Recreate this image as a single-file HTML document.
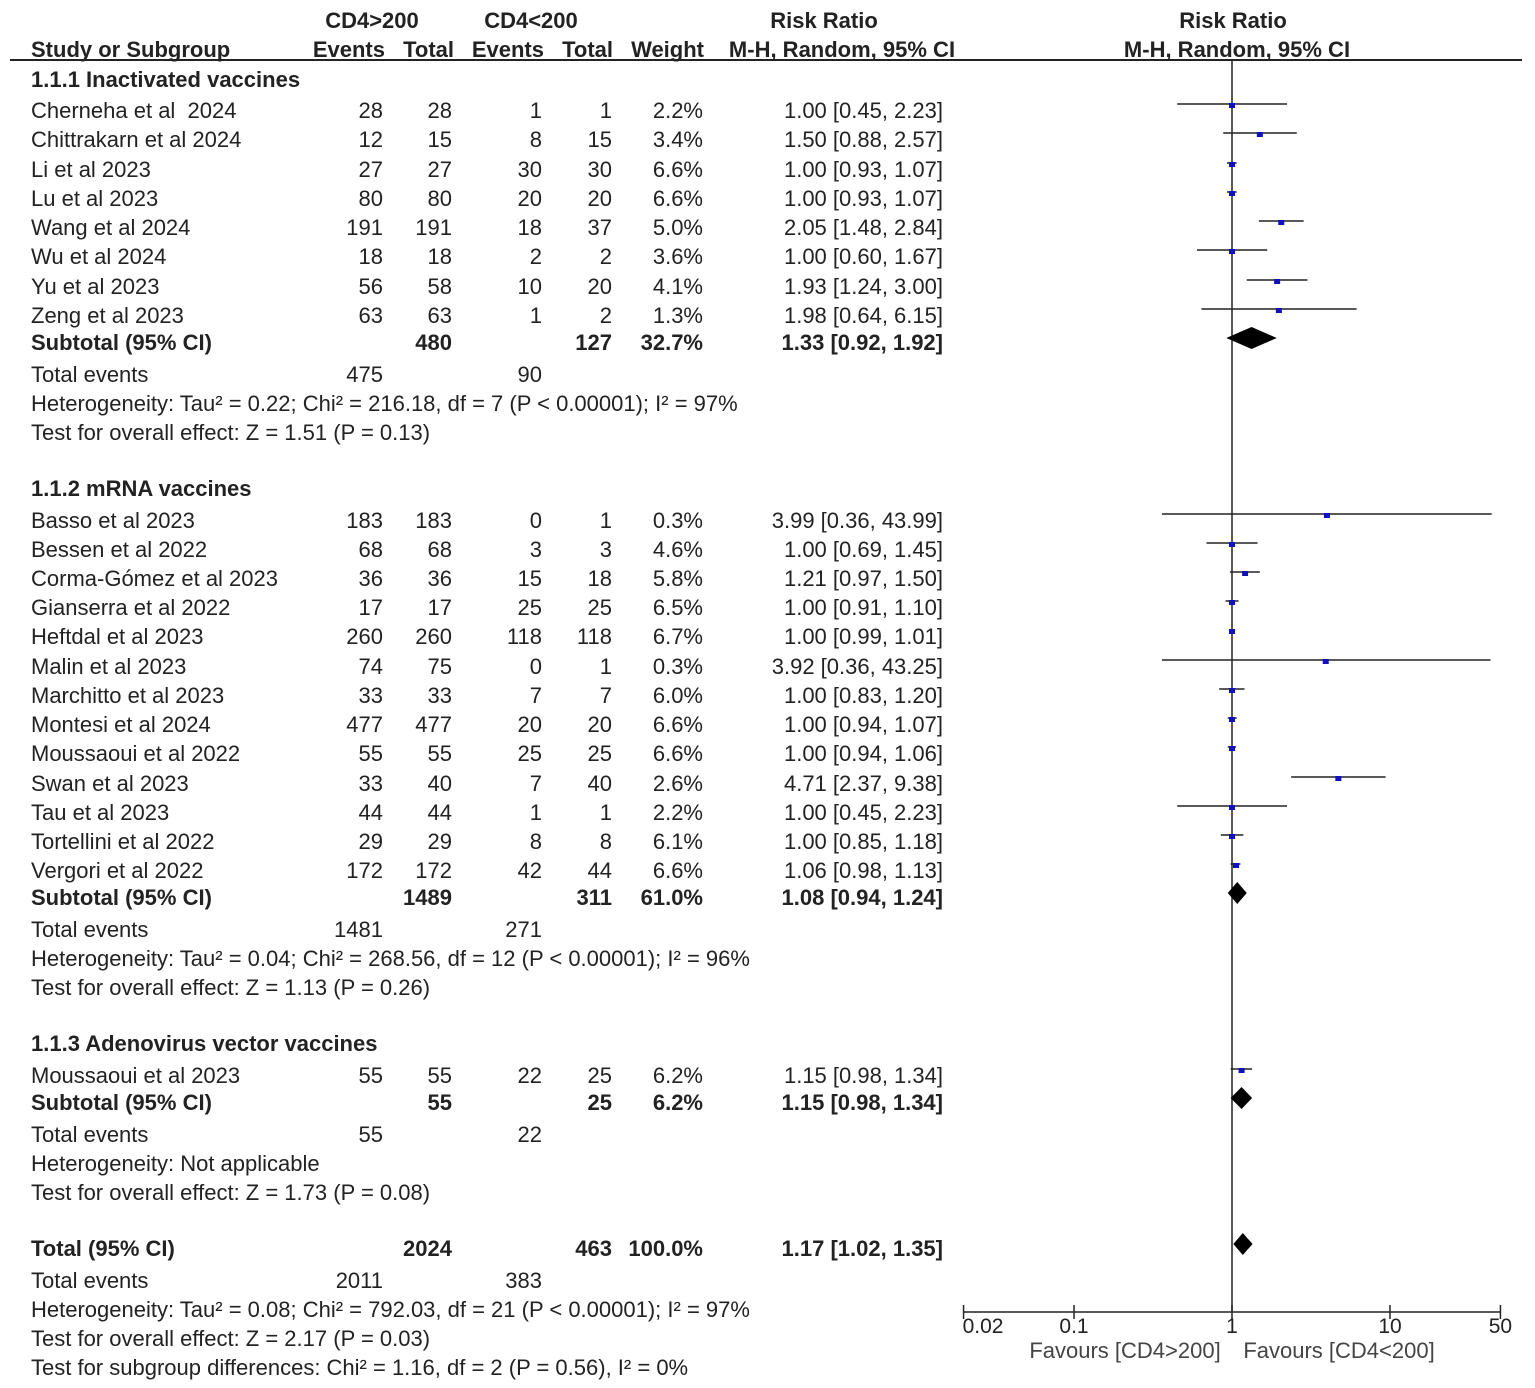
<!DOCTYPE html>
<html><head><meta charset="utf-8"><style>
body{margin:0;background:#fff;}
#c{position:relative;width:1535px;height:1388px;overflow:hidden;font-family:"Liberation Sans",Arial,sans-serif;font-size:22px;color:#222;}
.t{position:absolute;white-space:pre;line-height:24px;transform:translateY(-12px);}
.b{font-weight:bold;}
svg{position:absolute;left:0;top:0;}
</style></head><body>
<div id="c">
<svg id="s" width="1535" height="1388"></svg>
</div>
<script>
// ---- data ----
const studyNames=["Cherneha et al  2024","Chittrakarn et al 2024","Li et al 2023","Lu et al 2023","Wang et al 2024","Wu et al 2024","Yu et al 2023","Zeng et al 2023",
"Basso et al 2023","Bessen et al 2022","Corma-Gómez et al 2023","Gianserra et al 2022","Heftdal et al 2023","Malin et al 2023","Marchitto et al 2023","Montesi et al 2024","Moussaoui et al 2022","Swan et al 2023","Tau et al 2023","Tortellini et al 2022","Vergori et al 2022",
"Moussaoui et al 2023"];
const ev1=[28,12,27,80,191,18,56,63,183,68,36,17,260,74,33,477,55,33,44,29,172,55];
const tot1=[28,15,27,80,191,18,58,63,183,68,36,17,260,75,33,477,55,40,44,29,172,55];
const ev2=[1,8,30,20,18,2,10,1,0,3,15,25,118,0,7,20,25,7,1,8,42,22];
const tot2=[1,15,30,20,37,2,20,2,1,3,18,25,118,1,7,20,25,40,1,8,44,25];
const weights=["2.2%","3.4%","6.6%","6.6%","5.0%","3.6%","4.1%","1.3%","0.3%","4.6%","5.8%","6.5%","6.7%","0.3%","6.0%","6.6%","6.6%","2.6%","2.2%","6.1%","6.6%","6.2%"];
const rr=[1.00,1.50,1.00,1.00,2.05,1.00,1.93,1.98,3.99,1.00,1.21,1.00,1.00,3.92,1.00,1.00,1.00,4.71,1.00,1.00,1.06,1.15];
const lo=[0.45,0.88,0.93,0.93,1.48,0.60,1.24,0.64,0.36,0.69,0.97,0.91,0.99,0.36,0.83,0.94,0.94,2.37,0.45,0.85,0.98,0.98];
const hi=[2.23,2.57,1.07,1.07,2.84,1.67,3.00,6.15,43.99,1.45,1.50,1.10,1.01,43.25,1.20,1.07,1.06,9.38,2.23,1.18,1.13,1.34];
const sumRR=[1.33,1.08,1.15,1.17];
const sumLo=[0.92,0.94,0.98,1.02];
const sumHi=[1.92,1.24,1.34,1.35];
const ticks=[0.02,0.1,1,10,50];
// ---- layout ----
const c=document.getElementById('c'), s=document.getElementById('s');
const NS="http://www.w3.org/2000/svg";
const X=v=>1232+158*Math.log10(v);
function txt(str,x,y,cls,name,right){
 const d=document.createElement('div');
 d.className='t '+(cls||'');
 d.textContent=str;
 if(right){d.style.right=(1535-x)+'px';}else d.style.left=x+'px';
 d.style.top=y+'px';
 
 
 c.appendChild(d);
}
function ctr(str,x,y,cls,name,color){
 const d=document.createElement('div');
 d.className='t '+(cls||'');
 d.textContent=str;d.style.left=(x-200)+'px';d.style.width='400px';d.style.textAlign='center';d.style.top=y+'px';
 if(color)d.style.color=color;
 
 
 c.appendChild(d);
}
function el(tag,attrs,name){
 const e=document.createElementNS(NS,tag);
 for(const k in attrs)e.setAttribute(k,attrs[k]);
 
 
 s.appendChild(e);return e;
}
// headers
ctr("CD4>200",372,21,'b','header-cd4-over-200');
ctr("CD4<200",531,21,'b','header-cd4-under-200');
ctr("Risk Ratio",824,21,'b','header-risk-ratio-table');
ctr("Risk Ratio",1233,21,'b','header-risk-ratio-plot');
txt("Study or Subgroup",31,50,'b','header-study','');
txt("Events",385,50,'b','header-events1',1);
txt("Total",454,50,'b','header-total1',1);
txt("Events",544,50,'b','header-events2',1);
txt("Total",613,50,'b','header-total2',1);
txt("Weight",704,50,'b','header-weight',1);
ctr("M-H, Random, 95% CI",842,50,'b','header-mh-table');
ctr("M-H, Random, 95% CI",1237,50,'b','header-mh-plot');
el('line',{x1:10,x2:1522,y1:60,y2:60,stroke:'#222','stroke-width':2},'header-rule');
el('line',{x1:1232,x2:1232,y1:60,y2:1312,stroke:'#222','stroke-width':1.5},'null-line');
// groups
const groups=[
 {title:"1.1.1 Inactivated vaccines",ty:80,rows:[111,140,170,199,228,257,287,316],start:0,sub:343,
  st:[480,127,"32.7%","1.33 [0.92, 1.92]"],te:[475,90],het:"Heterogeneity: Tau² = 0.22; Chi² = 216.18, df = 7 (P < 0.00001); I² = 97%",test:"Test for overall effect: Z = 1.51 (P = 0.13)"},
 {title:"1.1.2 mRNA vaccines",ty:489,rows:[521,550,579,608,637,667,696,725,754,784,813,842,871],start:8,sub:898,
  st:[1489,311,"61.0%","1.08 [0.94, 1.24]"],te:[1481,271],het:"Heterogeneity: Tau² = 0.04; Chi² = 268.56, df = 12 (P < 0.00001); I² = 96%",test:"Test for overall effect: Z = 1.13 (P = 0.26)"},
 {title:"1.1.3 Adenovirus vector vaccines",ty:1044,rows:[1076],start:21,sub:1103,
  st:[55,25,"6.2%","1.15 [0.98, 1.34]"],te:[55,22],het:"Heterogeneity: Not applicable",test:"Test for overall effect: Z = 1.73 (P = 0.08)"}
];
function diamond(i,y,name){
 const a=X(sumLo[i]),b=X(sumRR[i]),d=X(sumHi[i]);
 el('polygon',{points:`${a},${y} ${b},${y-11} ${d},${y} ${b},${y+11}`,fill:'#000'},name);
}
groups.forEach((g,gi)=>{
 txt(g.title,31,g.ty,'b','subgroup-title-'+(gi+1));
 g.rows.forEach((y,k)=>{
  const i=g.start+k;
  txt(studyNames[i],31,y,'','study-name');
  txt(String(ev1[i]),383,y,'','events-cd4-over-200',1);
  txt(String(tot1[i]),452,y,'','total-cd4-over-200',1);
  txt(String(ev2[i]),542,y,'','events-cd4-under-200',1);
  txt(String(tot2[i]),612,y,'','total-cd4-under-200',1);
  txt(weights[i],703,y,'','study-weight',1);
  txt(rr[i].toFixed(2)+" ["+lo[i].toFixed(2)+", "+hi[i].toFixed(2)+"]",943,y,'','study-ci-text',1);
  el('line',{x1:X(lo[i]),x2:X(hi[i]),y1:y-7,y2:y-7,stroke:'#222','stroke-width':1.5},'ci-line');
  el('rect',{x:X(rr[i])-3,y:y-8,width:6,height:5,fill:'#1010c0'},'point-estimate');
 });
 txt("Subtotal (95% CI)",31,g.sub,'b','subtotal-label');
 txt(String(g.st[0]),452,g.sub,'b','subtotal-total1',1);
 txt(String(g.st[1]),612,g.sub,'b','subtotal-total2',1);
 txt(g.st[2],703,g.sub,'b','subtotal-weight',1);
 txt(g.st[3],943,g.sub,'b','subtotal-ci',1);
 diamond(gi,g.sub-5,'subtotal-diamond');
 txt("Total events",31,g.sub+32,'','total-events-label');
 txt(String(g.te[0]),383,g.sub+32,'','total-events1',1);
 txt(String(g.te[1]),542,g.sub+32,'','total-events2',1);
 txt(g.het,31,g.sub+61,'','heterogeneity');
 txt(g.test,31,g.sub+90,'','overall-effect-test');
});
// overall
txt("Total (95% CI)",31,1249,'b','overall-label');
txt("2024",452,1249,'b','overall-total1',1);
txt("463",612,1249,'b','overall-total2',1);
txt("100.0%",703,1249,'b','overall-weight',1);
txt("1.17 [1.02, 1.35]",943,1249,'b','overall-ci',1);
diamond(3,1244,'overall-diamond');
txt("Total events",31,1281,'','overall-total-events-label');
txt("2011",383,1281,'','overall-events1',1);
txt("383",542,1281,'','overall-events2',1);
txt("Heterogeneity: Tau² = 0.08; Chi² = 792.03, df = 21 (P < 0.00001); I² = 97%",31,1310,'','overall-heterogeneity');
txt("Test for overall effect: Z = 2.17 (P = 0.03)",31,1339,'','overall-effect-test');
txt("Test for subgroup differences: Chi² = 1.16, df = 2 (P = 0.56), I² = 0%",31,1368,'','subgroup-differences');
// axis
el('line',{x1:X(ticks[0]),x2:X(ticks[ticks.length-1]),y1:1312,y2:1312,stroke:'#222','stroke-width':1.5},'x-axis');
ticks.forEach(t=>{
 el('line',{x1:X(t),x2:X(t),y1:1305,y2:1319,stroke:'#222','stroke-width':1.5},'x-tick');
 const tx=el('text',{x:X(t)+(t===0.02?-1:0),y:1333,'text-anchor':t===0.02?'start':'middle','font-family':'Liberation Sans, sans-serif','font-size':21,fill:'#222'},'x-tick-label');
 tx.textContent=String(t);
});
ctr("Favours [CD4>200]",1125,1351,'','favours-left','#444');
ctr("Favours [CD4<200]",1339,1351,'','favours-right','#444');
</script>
</body></html>
